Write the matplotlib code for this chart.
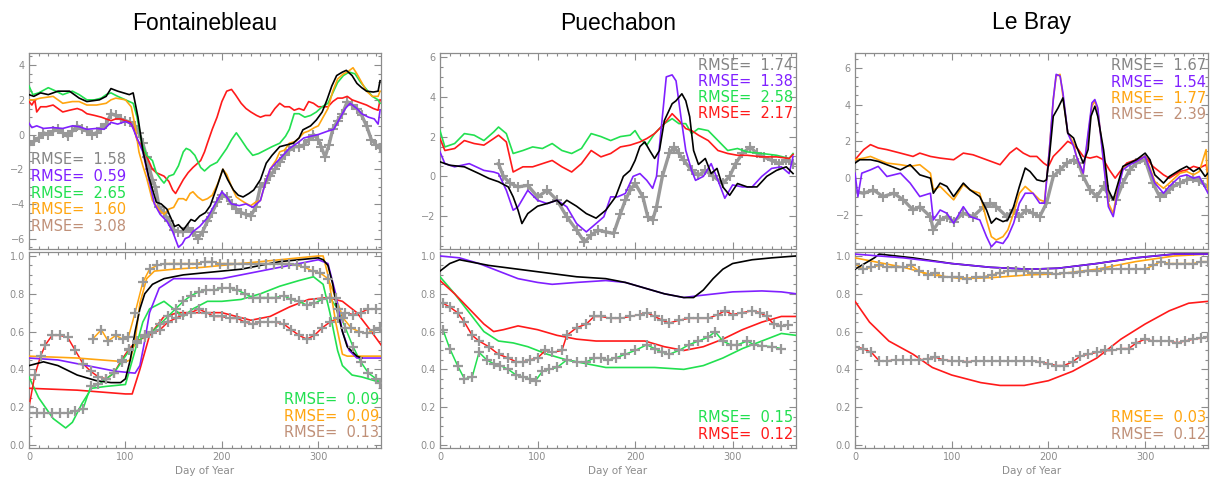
import matplotlib
matplotlib.use("Agg")
import matplotlib.pyplot as plt
from matplotlib.ticker import MultipleLocator, FormatStrFormatter

# ---------------- data ----------------
titles = ["Fontainebleau", "Puechabon", "Le Bray"]
xlabel = "Day of Year"

# Fontainebleau, top panel (day, value)
fb_top_black = [(0,2.3),(5,2.2),(12,2.4),(20,2.3),(30,2.5),(42,2.5),(52,2.1),(60,1.9),(73,2.0),(80,2.2),(85,2.65),(92,2.5),(98,2.4),(104,2.3),(108,2.4),(113,1.0),(118,-0.9),(124,-2.4),(132,-3.9),(137,-4.0),(143,-4.3),(151,-5.3),(155,-5.2),(160,-5.5),(168,-4.9),(172,-5.0),(177,-4.7),(183,-4.5),(188,-4.1),(195,-3.0),(201,-2.0),(206,-2.6),(212,-3.2),(217,-3.5),(222,-3.6),(228,-3.4),(233,-3.2),(240,-2.6),(246,-1.65),(252,-1.2),(260,-0.7),(267,-0.6),(274,-0.5),(280,-0.2),(284,0.27),(292,0.5),(298,0.84),(304,1.3),(309,2.0),(314,2.8),(319,3.4),(325,3.6),(329,3.7),(335,3.4),(340,2.95),(345,2.7),(350,2.5),(357,2.45),(362,2.5),(364,3.1)]
fb_top_purple = [(0,0.65),(3,0.4),(8,0.5),(15,0.35),(25,0.4),(35,0.35),(45,0.5),(52,0.45),(60,0.3),(70,0.35),(78,0.3),(85,0.7),(92,0.6),(100,0.75),(106,0.6),(112,-0.2),(118,-1.0),(124,-2.5),(130,-4.0),(136,-4.6),(143,-5.0),(149,-5.6),(155,-6.5),(159,-6.3),(162,-6.0),(166,-5.9),(170,-5.6),(177,-5.3),(185,-4.8),(192,-4.1),(200,-3.3),(205,-3.6),(210,-4.0),(218,-4.1),(225,-4.0),(232,-4.2),(240,-3.8),(245,-2.8),(250,-2.0),(260,-1.4),(270,-0.8),(278,-0.5),(285,-0.2),(292,-0.1),(300,0.0),(305,0.1),(310,0.2),(316,0.3),(322,0.9),(328,1.5),(333,1.8),(340,1.5),(345,1.2),(352,1.0),(358,0.9),(362,0.6),(364,1.4)]
fb_top_green = [(0,2.8),(4,2.3),(10,2.4),(20,2.7),(28,2.5),(35,2.3),(45,2.5),(52,2.3),(60,2.0),(68,2.0),(75,2.1),(80,2.3),(85,2.4),(92,2.2),(100,2.0),(108,1.8),(112,1.0),(117,-0.5),(122,-1.2),(128,-1.5),(132,-2.2),(137,-2.6),(140,-2.8),(145,-2.4),(150,-2.3),(155,-1.8),(160,-1.0),(163,-0.8),(167,-0.9),(172,-1.2),(178,-1.9),(182,-2.1),(188,-1.8),(195,-1.6),(200,-1.2),(205,-0.8),(210,-0.3),(215,0.1),(220,-0.3),(226,-0.8),(232,-1.2),(238,-1.1),(245,-0.9),(252,-0.7),(260,-0.5),(266,-0.1),(270,0.3),(275,1.2),(280,1.2),(286,1.0),(292,1.1),(298,1.3),(304,1.6),(310,1.8),(315,2.4),(320,3.0),(326,3.4),(332,3.6),(338,3.5),(344,3.0),(350,2.6),(356,2.2),(362,2.0),(364,1.8)]
fb_top_orange = [(0,2.0),(5,2.0),(12,2.1),(25,2.2),(35,1.8),(45,1.9),(52,1.9),(60,1.7),(70,1.7),(80,1.8),(85,2.0),(90,2.1),(100,2.0),(106,1.6),(110,0.5),(114,-1.0),(118,-1.8),(122,-2.5),(128,-3.8),(132,-4.1),(136,-4.4),(140,-4.6),(145,-4.3),(150,-4.2),(155,-3.7),(160,-3.7),(163,-3.8),(167,-3.4),(170,-3.3),(175,-3.6),(180,-3.8),(185,-3.7),(190,-3.5),(196,-2.8),(201,-2.0),(205,-2.3),(210,-3.0),(215,-3.6),(220,-3.8),(226,-4.0),(230,-4.1),(235,-3.9),(240,-3.8),(245,-2.8),(250,-2.0),(256,-1.5),(260,-1.0),(265,-0.9),(270,-0.5),(276,-0.4),(280,-0.2),(285,0.1),(290,0.2),(296,0.4),(300,0.5),(305,1.0),(310,1.5),(315,2.5),(320,3.2),(326,3.5),(330,3.6),(336,3.85),(340,3.5),(345,3.0),(350,2.5),(356,2.2),(362,2.2),(364,2.5)]
fb_top_red = [(0,1.9),(3,1.7),(6,2.0),(8,1.3),(12,1.6),(18,1.6),(25,1.7),(30,1.5),(35,1.3),(42,1.4),(50,1.5),(55,1.4),(60,1.2),(68,1.1),(75,1.0),(80,0.9),(85,0.8),(90,0.9),(95,0.9),(100,0.8),(105,0.7),(109,0.3),(112,-0.3),(116,-0.6),(120,-1.0),(124,-1.5),(128,-2.0),(132,-2.2),(136,-2.3),(140,-2.4),(145,-2.7),(149,-3.2),(152,-3.4),(156,-3.0),(160,-2.6),(165,-2.2),(170,-1.9),(174,-1.7),(178,-1.5),(182,-1.0),(185,-0.5),(190,0.3),(195,1.0),(200,1.9),(205,2.5),(210,2.6),(214,2.3),(220,1.8),(225,1.5),(230,1.3),(236,1.1),(240,1.0),(245,1.1),(250,1.1),(255,1.5),(260,1.8),(265,1.6),(270,1.6),(275,1.4),(280,1.5),(285,1.4),(290,1.9),(295,1.8),(300,1.6),(305,1.6),(310,1.6),(315,1.9),(320,2.1),(325,2.1),(330,2.2),(335,2.0),(340,1.9),(345,1.8),(350,1.7),(357,1.5),(362,1.4),(364,2.0)]
fb_top_obs = [(0,-0.6),(5,-0.4),(10,-0.2),(15,0.1),(20,0.0),(25,0.2),(30,0.3),(35,0.1),(40,-0.1),(45,0.2),(50,0.5),(55,0.3),(60,0.2),(65,0.0),(70,0.1),(75,0.4),(80,0.6),(85,1.2),(90,1.1),(95,0.9),(100,0.8),(105,0.7),(110,0.5),(114,0.1),(118,-0.5),(122,-1.3),(125,-2.0),(128,-2.6),(131,-3.0),(135,-4.2),(140,-4.5),(145,-5.0),(150,-5.5),(155,-5.6),(160,-5.6),(165,-5.4),(170,-5.6),(175,-6.0),(180,-5.6),(185,-5.0),(190,-4.5),(195,-3.9),(200,-3.5),(205,-3.6),(210,-4.0),(215,-4.3),(220,-4.5),(225,-4.6),(230,-4.7),(235,-4.2),(240,-3.0),(245,-2.8),(250,-2.4),(255,-2.0),(260,-1.6),(265,-1.2),(270,-0.9),(275,-0.7),(280,-0.7),(285,-0.6),(290,-0.3),(295,0.0),(300,-0.3),(303,-0.7),(307,-1.3),(311,-0.6),(315,0.3),(320,0.8),(325,1.2),(330,1.9),(335,1.7),(340,1.5),(345,1.1),(350,0.5),(355,-0.3),(360,-0.6),(364,-0.8)]
fb_top_rmse = ["1.58", "0.59", "2.65", "1.60", "3.08"]

# Fontainebleau, bottom panel
fb_bot_black = [(0,0.42),(15,0.44),(30,0.42),(50,0.37),(70,0.34),(85,0.33),(95,0.33),(100,0.35),(105,0.45),(110,0.6),(115,0.72),(120,0.8),(128,0.85),(140,0.88),(160,0.9),(180,0.91),(200,0.92),(220,0.93),(240,0.95),(260,0.97),(280,0.98),(300,0.99),(305,0.98),(310,0.95),(315,0.85),(320,0.7),(325,0.6),(330,0.52),(340,0.47),(345,0.46)]
fb_bot_purple = [(0,0.46),(30,0.45),(60,0.42),(90,0.39),(110,0.38),(115,0.42),(120,0.55),(125,0.7),(135,0.83),(150,0.88),(170,0.88),(200,0.88),(220,0.9),(250,0.93),(280,0.96),(300,0.98),(310,0.96),(318,0.8),(325,0.6),(332,0.5),(340,0.46),(365,0.46)]
fb_bot_orange = [(0,0.47),(50,0.46),(100,0.44),(105,0.45),(110,0.55),(115,0.75),(122,0.88),(130,0.92),(150,0.93),(180,0.94),(220,0.96),(260,0.98),(300,1.0),(305,1.0),(310,0.9),(318,0.65),(325,0.48),(330,0.47),(365,0.47)]
fb_bot_green = [(0,0.36),(10,0.25),(25,0.14),(38,0.09),(45,0.12),(55,0.22),(65,0.3),(80,0.31),(100,0.32),(110,0.5),(118,0.65),(125,0.72),(140,0.76),(150,0.72),(160,0.68),(170,0.72),(185,0.76),(200,0.76),(220,0.77),(240,0.8),(260,0.84),(280,0.87),(295,0.89),(305,0.85),(312,0.7),(320,0.5),(325,0.42),(335,0.37),(345,0.36),(365,0.33)]
fb_bot_red = [(0,0.3),(50,0.29),(100,0.27),(107,0.27),(115,0.4),(125,0.58),(140,0.68),(155,0.7),(200,0.7),(230,0.66),(250,0.68),(270,0.73),(290,0.77),(310,0.78),(325,0.76),(340,0.7),(355,0.6),(365,0.53)]
fb_obs_green = [(0,0.17),(8,0.17),(16,0.17),(24,0.17),(32,0.17),(40,0.17),(48,0.18),(56,0.19),(64,0.31),(72,0.32),(80,0.35),(88,0.38),(96,0.44),(104,0.5),(112,0.54),(120,0.58),(128,0.6),(136,0.64),(144,0.68),(152,0.72),(160,0.76),(168,0.79),(176,0.81),(184,0.82),(192,0.82),(200,0.83),(208,0.83),(216,0.82),(224,0.8),(232,0.78),(240,0.78),(248,0.78),(256,0.78),(264,0.79),(272,0.77),(280,0.76),(288,0.74),(296,0.75),(304,0.77),(312,0.78),(320,0.72),(328,0.62),(336,0.52),(344,0.44),(352,0.38),(360,0.35),(364,0.33)]
fb_obs_orange = [(66,0.56),(75,0.61),(82,0.55),(90,0.58),(97,0.56),(103,0.57),(110,0.7),(118,0.86),(125,0.93),(133,0.95),(141,0.96),(150,0.96),(158,0.96),(166,0.96),(174,0.96),(182,0.97),(190,0.97),(198,0.96),(206,0.96),(214,0.96),(222,0.96),(230,0.96),(238,0.96),(246,0.96),(254,0.96),(262,0.96),(270,0.96),(278,0.95),(286,0.94),(294,0.92),(302,0.91),(310,0.88),(318,0.78),(326,0.67),(334,0.62),(342,0.6),(350,0.59),(358,0.61),(364,0.62)]
fb_obs_red = [(0,0.2),(6,0.37),(12,0.47),(17,0.53),(24,0.58),(32,0.58),(40,0.57),(48,0.5),(56,0.43),(64,0.39),(72,0.36),(80,0.35),(88,0.38),(96,0.45),(104,0.51),(112,0.55),(120,0.57),(128,0.59),(136,0.61),(144,0.65),(152,0.67),(160,0.69),(168,0.7),(176,0.72),(184,0.7),(192,0.68),(200,0.68),(208,0.67),(216,0.67),(224,0.65),(232,0.64),(240,0.65),(248,0.65),(256,0.65),(264,0.64),(272,0.61),(280,0.58),(288,0.56),(296,0.58),(304,0.62),(312,0.65),(320,0.67),(328,0.7),(336,0.69),(344,0.7),(352,0.72),(360,0.72)]
fb_bot_rmse = ["0.09", "0.09", "0.13"]

# Puechabon, top panel
pu_top_black = [(0,0.73),(10,0.56),(25,0.48),(40,0.14),(50,-0.1),(60,-0.27),(70,-0.53),(75,-1.03),(80,-1.7),(84,-2.37),(90,-1.87),(100,-1.5),(110,-1.36),(120,-1.2),(125,-1.45),(130,-1.2),(140,-1.5),(150,-1.87),(160,-2.1),(170,-1.7),(180,-1.03),(188,0.0),(195,0.3),(200,0.8),(205,1.5),(210,1.73),(215,1.3),(220,0.9),(225,1.3),(230,2.8),(238,3.65),(242,3.8),(248,4.15),(252,3.8),(256,3.0),(260,1.3),(265,0.6),(272,0.9),(278,0.14),(284,0.4),(290,-0.53),(297,-0.95),(305,-0.36),(315,-0.53),(325,-0.53),(335,0.0),(345,0.3),(355,0.48),(362,0.14)]
pu_top_purple = [(0,1.23),(5,0.64),(15,0.48),(30,0.64),(45,0.3),(55,0.22),(60,0.14),(68,-0.7),(75,-1.7),(80,-1.53),(90,-0.7),(100,-1.2),(110,-1.37),(120,-1.2),(130,-1.53),(140,-2.37),(150,-2.79),(160,-2.37),(168,-2.03),(175,-1.03),(182,-1.03),(190,-0.86),(198,0.0),(205,0.14),(212,-0.2),(218,-0.6),(222,0.0),(228,3.0),(232,5.0),(238,5.1),(242,4.8),(247,3.0),(252,1.3),(258,0.3),(262,-0.2),(270,0.0),(278,0.64),(285,-0.2),(292,-1.1),(300,-0.43),(310,-0.53),(320,-0.53),(330,0.0),(340,0.4),(350,0.48),(358,0.14),(362,1.0)]
pu_top_green = [(0,2.3),(5,1.48),(15,1.65),(25,2.15),(35,2.07),(45,1.8),(55,2.23),(60,2.48),(68,2.15),(75,1.15),(85,1.3),(95,1.48),(105,1.4),(115,1.65),(125,1.3),(135,1.15),(145,1.4),(155,2.15),(165,2.0),(175,1.8),(185,2.0),(195,2.07),(200,2.3),(205,1.9),(212,1.57),(220,2.15),(230,2.65),(238,2.9),(245,2.65),(252,2.65),(258,2.15),(265,2.4),(275,2.3),(285,1.8),(295,1.3),(305,1.4),(315,1.23),(330,1.15),(345,1.06),(358,0.9),(362,1.15)]
pu_top_red = [(0,1.9),(5,1.3),(15,1.4),(25,1.8),(35,1.65),(45,1.57),(55,1.9),(60,2.07),(68,1.73),(75,0.22),(85,0.48),(95,0.48),(105,0.64),(115,0.8),(125,0.48),(135,0.22),(145,0.64),(155,1.3),(165,0.98),(175,1.15),(185,1.48),(195,1.57),(205,1.73),(212,1.9),(220,2.15),(230,2.65),(238,3.15),(245,2.8),(252,2.4),(258,2.3),(265,2.07),(275,1.8),(285,1.3),(295,1.15),(305,1.06),(315,1.06),(330,0.98),(345,0.98),(358,0.9),(362,1.1)]
pu_top_obs = [(60,0.64),(65,0.0),(72,-0.35),(80,-0.53),(90,-0.45),(100,-1.03),(110,-0.7),(120,-1.2),(130,-2.03),(140,-2.7),(148,-3.3),(155,-2.95),(162,-2.7),(170,-2.79),(178,-2.87),(185,-1.87),(190,-1.2),(195,-0.7),(200,-0.35),(208,-1.03),(213,-2.03),(218,-2.2),(222,-1.53),(228,0.0),(235,1.15),(240,1.48),(245,1.15),(250,0.8),(258,0.3),(265,0.05),(272,0.3),(280,0.0),(290,-0.35),(297,0.0),(303,0.64),(310,1.15),(318,1.48),(325,1.15),(332,0.98),(340,0.8),(348,0.64),(355,0.8),(362,0.64)]
pu_top_rmse = ["1.74", "1.38", "2.58", "2.17"]

# Puechabon, bottom panel
pu_bot_black = [(0,0.92),(10,0.96),(20,0.98),(30,0.97),(50,0.95),(80,0.93),(110,0.91),(140,0.89),(170,0.88),(190,0.86),(210,0.83),(230,0.8),(250,0.78),(260,0.78),(270,0.82),(280,0.88),(290,0.93),(300,0.96),(320,0.98),(340,0.99),(365,1.0)]
pu_bot_purple = [(0,1.0),(20,0.99),(40,0.96),(60,0.92),(80,0.88),(100,0.86),(115,0.85),(140,0.86),(170,0.87),(190,0.86),(210,0.83),(230,0.8),(250,0.78),(265,0.79),(300,0.81),(330,0.815),(350,0.81),(365,0.8)]
pu_bot_green = [(0,0.89),(15,0.8),(30,0.7),(45,0.6),(60,0.55),(75,0.54),(90,0.52),(110,0.48),(130,0.45),(150,0.43),(170,0.41),(200,0.41),(220,0.41),(250,0.4),(270,0.42),(290,0.46),(310,0.51),(330,0.55),(350,0.59),(365,0.58)]
pu_bot_red = [(0,0.87),(15,0.8),(30,0.72),(45,0.64),(55,0.6),(65,0.61),(80,0.63),(100,0.61),(120,0.58),(140,0.56),(160,0.55),(180,0.55),(210,0.55),(230,0.52),(250,0.5),(270,0.52),(290,0.56),(310,0.61),(330,0.65),(350,0.68),(365,0.68)]
pu_obs_red = [(3,0.75),(10,0.73),(18,0.7),(25,0.65),(33,0.58),(40,0.55),(50,0.52),(60,0.48),(70,0.46),(78,0.44),(85,0.44),(92,0.45),(100,0.46),(108,0.5),(115,0.49),(125,0.5),(130,0.58),(140,0.62),(150,0.64),(158,0.68),(165,0.68),(175,0.67),(185,0.67),(195,0.68),(205,0.69),(212,0.7),(220,0.68),(228,0.66),(235,0.645),(245,0.66),(255,0.67),(265,0.67),(275,0.67),(285,0.69),(292,0.71),(300,0.69),(310,0.7),(320,0.71),(328,0.7),(335,0.68),(342,0.64),(350,0.63),(357,0.635)]
pu_obs_green = [(3,0.61),(10,0.51),(18,0.42),(25,0.35),(33,0.36),(40,0.49),(48,0.45),(55,0.43),(62,0.42),(70,0.4),(78,0.37),(85,0.36),(92,0.35),(98,0.34),(105,0.39),(112,0.4),(120,0.41),(130,0.45),(140,0.44),(150,0.44),(158,0.46),(165,0.46),(172,0.45),(180,0.46),(190,0.48),(200,0.5),(212,0.53),(220,0.51),(228,0.49),(235,0.48),(245,0.5),(255,0.53),(265,0.55),(275,0.57),(282,0.6),(290,0.55),(298,0.53),(305,0.53),(315,0.55),(322,0.53),(330,0.525),(340,0.52),(350,0.51)]
pu_bot_rmse = ["0.15", "0.12"]

# Le Bray, top panel
lb_top_black = [(0,0.82),(5,1.0),(16,1.0),(24,0.91),(33,0.73),(47,0.45),(57,0.73),(67,0.18),(78,0.0),(81,-0.82),(88,-0.27),(95,-0.45),(102,-1.0),(112,-0.27),(119,-0.64),(129,-1.0),(136,-1.73),(141,-2.45),(146,-2.18),(153,-2.36),(158,-2.27),(164,-1.55),(170,-0.45),(176,0.55),(181,0.36),(188,-0.09),(195,-0.18),(198,-0.09),(201,1.18),(205,3.36),(210,3.82),(215,4.36),(220,2.45),(226,2.18),(229,1.73),(236,0.82),(241,1.55),(244,3.36),(248,3.91),(251,3.36),(257,1.55),(262,-0.64),(267,-1.18),(272,-0.27),(277,0.64),(284,0.82),(291,1.0),(300,1.36),(305,1.0),(310,0.18),(319,-0.27),(325,0.09),(336,0.45),(343,0.64),(350,0.36),(356,0.55),(362,0.09),(365,0.27)]
lb_top_purple = [(0,0.27),(3,-1.0),(7,0.27),(16,0.45),(24,0.64),(33,0.09),(47,0.27),(57,-0.27),(67,-1.0),(78,-0.82),(81,-2.27),(88,-1.73),(95,-1.91),(102,-2.45),(112,-1.55),(119,-2.09),(129,-2.27),(136,-3.18),(141,-3.73),(146,-3.45),(153,-3.55),(158,-3.18),(164,-2.45),(170,-1.36),(176,-0.82),(184,-0.82),(191,-1.36),(196,-1.36),(201,1.55),(205,4.27),(208,5.64),(212,5.55),(215,4.64),(220,2.45),(226,1.73),(229,1.18),(236,0.27),(241,2.45),(245,4.09),(248,4.27),(251,3.82),(257,0.82),(262,-1.55),(267,-2.09),(272,-0.64),(277,0.45),(284,0.73),(291,0.91),(300,1.18),(305,0.45),(310,-0.27),(319,-0.82),(325,-0.45),(336,0.09),(343,0.18),(350,0.0),(356,0.09),(365,-0.82)]
lb_top_orange = [(0,1.0),(9,1.09),(16,1.18),(24,1.0),(33,0.82),(47,0.73),(57,0.64),(67,0.73),(78,0.27),(81,-0.64),(88,-0.45),(95,-0.82),(102,-1.18),(112,-0.36),(119,-0.64),(129,-0.82),(136,-2.27),(141,-3.18),(146,-3.36),(153,-3.18),(158,-2.82),(164,-1.91),(170,-0.82),(176,-0.45),(184,-0.82),(191,-1.18),(196,-1.27),(201,1.55),(205,4.27),(208,5.55),(212,5.64),(215,4.45),(220,2.45),(226,1.91),(229,1.18),(236,0.27),(241,2.27),(245,3.91),(248,4.18),(251,3.73),(257,1.0),(262,-1.36),(267,-1.91),(272,-0.45),(277,0.55),(284,0.82),(291,0.91),(300,1.18),(305,0.55),(310,-0.18),(319,-0.55),(325,-0.27),(336,0.27),(343,0.36),(350,0.18),(356,0.36),(363,1.55),(365,-0.64)]
lb_top_red = [(0,1.0),(9,1.55),(16,1.82),(24,1.64),(33,1.55),(47,1.36),(60,1.18),(67,1.36),(78,1.18),(88,1.09),(102,1.0),(112,1.36),(122,1.27),(136,1.0),(150,0.73),(160,1.36),(167,1.64),(174,1.36),(181,1.18),(188,1.18),(195,0.82),(200,0.64),(205,1.18),(212,1.55),(220,2.0),(226,1.82),(231,1.55),(236,1.18),(243,1.09),(250,1.18),(257,1.0),(263,0.45),(269,0.0),(274,0.36),(281,0.82),(291,1.0),(300,1.18),(308,0.64),(319,0.18),(325,0.0),(336,0.36),(343,0.45),(350,0.64),(356,0.55),(363,0.73),(365,0.2)]
lb_top_obs = [(0,-0.73),(9,-0.82),(19,-0.64),(29,-1.0),(40,-0.82),(50,-1.18),(60,-1.73),(67,-1.55),(78,-2.09),(81,-2.82),(88,-2.27),(95,-2.09),(102,-2.36),(112,-1.91),(122,-2.09),(133,-1.55),(140,-1.36),(146,-1.55),(157,-2.09),(164,-1.73),(170,-2.09),(177,-1.73),(184,-1.91),(191,-2.09),(198,-1.36),(205,0.09),(212,0.45),(219,0.82),(226,1.0),(231,0.82),(236,0.09),(243,-0.64),(250,-1.0),(257,-0.45),(263,-1.0),(270,-1.18),(277,-0.27),(284,0.45),(291,0.82),(300,1.0),(308,-0.27),(315,-1.0),(322,-0.82),(329,-0.45),(336,-0.27),(343,-0.09),(350,0.0),(356,-0.18),(365,-0.45)]
lb_top_rmse = ["1.67", "1.54", "1.77", "2.39"]

# Le Bray, bottom panel
lb_bot_black = [(0,0.93),(10,0.96),(20,0.99),(25,1.01),(60,0.99),(100,0.96),(140,0.94),(180,0.93),(210,0.935),(250,0.96),(290,0.99),(330,1.01),(365,1.01)]
lb_bot_purple = [(0,1.01),(50,0.99),(100,0.96),(140,0.94),(180,0.93),(210,0.935),(250,0.96),(290,0.99),(330,1.01),(365,1.01)]
lb_bot_orange = [(0,0.99),(20,0.97),(50,0.94),(80,0.9),(110,0.88),(140,0.885),(180,0.9),(210,0.905),(250,0.93),(290,0.97),(330,1.0),(365,1.01)]
lb_bot_red = [(0,0.76),(15,0.65),(35,0.55),(60,0.48),(80,0.41),(100,0.37),(130,0.33),(150,0.315),(175,0.315),(200,0.34),(225,0.39),(250,0.46),(275,0.56),(300,0.64),(325,0.71),(345,0.75),(365,0.76)]
lb_obs_orange = [(0,0.96),(8,0.93),(17,0.94),(25,0.95),(33,0.94),(42,0.94),(50,0.94),(58,0.95),(66,0.92),(75,0.9),(83,0.91),(91,0.89),(100,0.89),(108,0.89),(116,0.88),(125,0.89),(133,0.89),(142,0.9),(150,0.91),(158,0.92),(166,0.92),(175,0.92),(183,0.91),(191,0.91),(200,0.91),(208,0.905),(216,0.91),(225,0.91),(233,0.915),(241,0.92),(250,0.92),(258,0.93),(266,0.93),(275,0.93),(283,0.93),(291,0.93),(300,0.93),(308,0.95),(316,0.97),(325,0.96),(333,0.96),(341,0.96),(350,0.96),(358,0.97),(365,0.97)]
lb_obs_red = [(0,0.52),(8,0.51),(17,0.49),(25,0.445),(33,0.445),(42,0.45),(50,0.45),(58,0.45),(66,0.45),(75,0.455),(83,0.465),(91,0.45),(100,0.445),(108,0.445),(116,0.44),(125,0.445),(133,0.445),(142,0.445),(150,0.445),(158,0.445),(166,0.445),(175,0.445),(183,0.445),(191,0.44),(200,0.43),(208,0.42),(216,0.42),(225,0.44),(233,0.47),(241,0.48),(250,0.49),(258,0.5),(266,0.5),(275,0.51),(283,0.51),(291,0.54),(300,0.56),(308,0.55),(316,0.55),(325,0.55),(333,0.54),(341,0.55),(350,0.56),(358,0.565),(365,0.57)]
lb_bot_rmse = ["0.03", "0.12"]

# ---------------- style ----------------
C_BLACK = "#000000"
C_PURPLE = "#8020ff"
C_GREEN = "#22e050"
C_ORANGE = "#ffa510"
C_RED = "#ff1a1a"
C_OBS = "#999999"
C_AXIS = "#8c8c8c"
C_TXT_BLACK = "#858585"
C_TXT_RED_MIX = "#c09078"

W, H = 1210, 483
fig = plt.figure(figsize=(W / 100, H / 100), dpi=100)
fig.patch.set_facecolor("white")

cols_px = [(29, 381), (440, 796), (855, 1208)]
top_px = (53, 249)
bot_px = (252, 448)
top_ylims = [(-6.6, 4.7), (-3.65, 6.2), (-3.85, 6.8)]


def add_axes(x0, x1, y0, y1):
    return fig.add_axes([x0 / W, 1 - y1 / H, (x1 - x0) / W, (y1 - y0) / H])


def style(ax, ymajor, yminor, show_xlabels):
    ax.set_xlim(0, 365)
    ax.xaxis.set_major_locator(MultipleLocator(100))
    ax.xaxis.set_minor_locator(MultipleLocator(10))
    ax.yaxis.set_major_locator(MultipleLocator(ymajor))
    ax.yaxis.set_minor_locator(MultipleLocator(yminor))
    ax.tick_params(which="both", direction="in", top=True, right=True,
                   color=C_AXIS, labelcolor=C_AXIS, labelsize=7, width=0.8)
    ax.tick_params(which="major", length=5, pad=3)
    ax.tick_params(which="minor", length=2.5)
    if not show_xlabels:
        ax.tick_params(labelbottom=False)
    for s in ax.spines.values():
        s.set_color(C_AXIS)
        s.set_linewidth(0.9)


def line(ax, pairs, color, lw=1.2):
    d, v = zip(*pairs)
    ax.plot(d, v, color=color, lw=lw, zorder=3)


def top_obs(ax, pairs):
    d, v = zip(*pairs)
    ax.plot(d, v, color=C_OBS, lw=2.4, marker="+", ms=6.5, mew=1.5, zorder=2)


def bot_obs(ax, pairs, color):
    d, v = zip(*pairs)
    ax.plot(d, v, color=color, lw=1.1, zorder=3)
    ax.plot(d, v, ls="none", marker="+", ms=6.5, mew=1.6, color=C_OBS, zorder=4)


def txt(x, y, s, color, ha):
    fig.text(x / W, 1 - y / H, s, color=color, ha=ha, va="center", fontsize=10.5,
             family="DejaVu Sans")


def bottom_panel_common(ax):
    ax.set_ylim(-0.016, 1.021)
    style(ax, 0.2, 0.05, True)
    ax.yaxis.set_major_formatter(FormatStrFormatter("%.1f"))
    ax.set_xlabel(xlabel, color=C_AXIS, fontsize=7.5, labelpad=3)


# --- Fontainebleau ---
x0, x1 = cols_px[0]
ax = add_axes(x0, x1, *top_px)
top_obs(ax, fb_top_obs)
line(ax, fb_top_red, C_RED)
line(ax, fb_top_green, C_GREEN)
line(ax, fb_top_orange, C_ORANGE)
line(ax, fb_top_purple, C_PURPLE)
line(ax, fb_top_black, C_BLACK)
ax.set_ylim(*top_ylims[0])
style(ax, 2, 0.5, False)
for i, (val, col) in enumerate(zip(fb_top_rmse, [C_TXT_BLACK, C_PURPLE, C_GREEN, C_ORANGE, C_TXT_RED_MIX])):
    txt(31, 160 + i * 16.6, "RMSE=  " + val, col, "left")

ax = add_axes(x0, x1, *bot_px)
line(ax, fb_bot_red, C_RED)
line(ax, fb_bot_green, C_GREEN)
bot_obs(ax, fb_obs_red, C_RED)
bot_obs(ax, fb_obs_green, C_GREEN)
bot_obs(ax, fb_obs_orange, C_ORANGE)
line(ax, fb_bot_orange, C_ORANGE)
line(ax, fb_bot_purple, C_PURPLE)
line(ax, fb_bot_black, C_BLACK)
bottom_panel_common(ax)
for i, (val, col) in enumerate(zip(fb_bot_rmse, [C_GREEN, C_ORANGE, C_TXT_RED_MIX])):
    txt(379, 400 + i * 16.3, "RMSE=  " + val, col, "right")

# --- Puechabon ---
x0, x1 = cols_px[1]
ax = add_axes(x0, x1, *top_px)
top_obs(ax, pu_top_obs)
line(ax, pu_top_green, C_GREEN)
line(ax, pu_top_red, C_RED)
line(ax, pu_top_purple, C_PURPLE)
line(ax, pu_top_black, C_BLACK)
ax.set_ylim(*top_ylims[1])
style(ax, 2, 0.5, False)
for i, (val, col) in enumerate(zip(pu_top_rmse, [C_TXT_BLACK, C_PURPLE, C_GREEN, C_RED])):
    txt(793, 65 + i * 16.3, "RMSE=  " + val, col, "right")

ax = add_axes(x0, x1, *bot_px)
line(ax, pu_bot_green, C_GREEN)
line(ax, pu_bot_red, C_RED)
bot_obs(ax, pu_obs_red, C_RED)
bot_obs(ax, pu_obs_green, C_GREEN)
line(ax, pu_bot_purple, C_PURPLE)
line(ax, pu_bot_black, C_BLACK)
bottom_panel_common(ax)
for i, (val, col) in enumerate(zip(pu_bot_rmse, [C_GREEN, C_RED])):
    txt(793, 418 + i * 16.5, "RMSE=  " + val, col, "right")

# --- Le Bray ---
x0, x1 = cols_px[2]
ax = add_axes(x0, x1, *top_px)
top_obs(ax, lb_top_obs)
line(ax, lb_top_red, C_RED)
line(ax, lb_top_orange, C_ORANGE)
line(ax, lb_top_purple, C_PURPLE)
line(ax, lb_top_black, C_BLACK)
ax.set_ylim(*top_ylims[2])
style(ax, 2, 0.5, False)
for i, (val, col) in enumerate(zip(lb_top_rmse, [C_TXT_BLACK, C_PURPLE, C_ORANGE, C_TXT_RED_MIX])):
    txt(1206, 66 + i * 16.3, "RMSE=  " + val, col, "right")

ax = add_axes(x0, x1, *bot_px)
line(ax, lb_bot_red, C_RED)
bot_obs(ax, lb_obs_red, C_RED)
bot_obs(ax, lb_obs_orange, C_ORANGE)
line(ax, lb_bot_orange, C_ORANGE)
line(ax, lb_bot_black, C_BLACK)
line(ax, lb_bot_purple, C_PURPLE)
bottom_panel_common(ax)
for i, (val, col) in enumerate(zip(lb_bot_rmse, [C_ORANGE, C_TXT_RED_MIX])):
    txt(1206, 418 + i * 16.5, "RMSE=  " + val, col, "right")

# --- titles ---
for (a, b), t in zip(cols_px, titles):
    fig.text(((a + b) / 2) / W, 1 - 23 / H, t, ha="center", va="center",
             fontsize=16.5, family="Liberation Sans", color="black")

fig.savefig("out.png", dpi=100, facecolor="white")
